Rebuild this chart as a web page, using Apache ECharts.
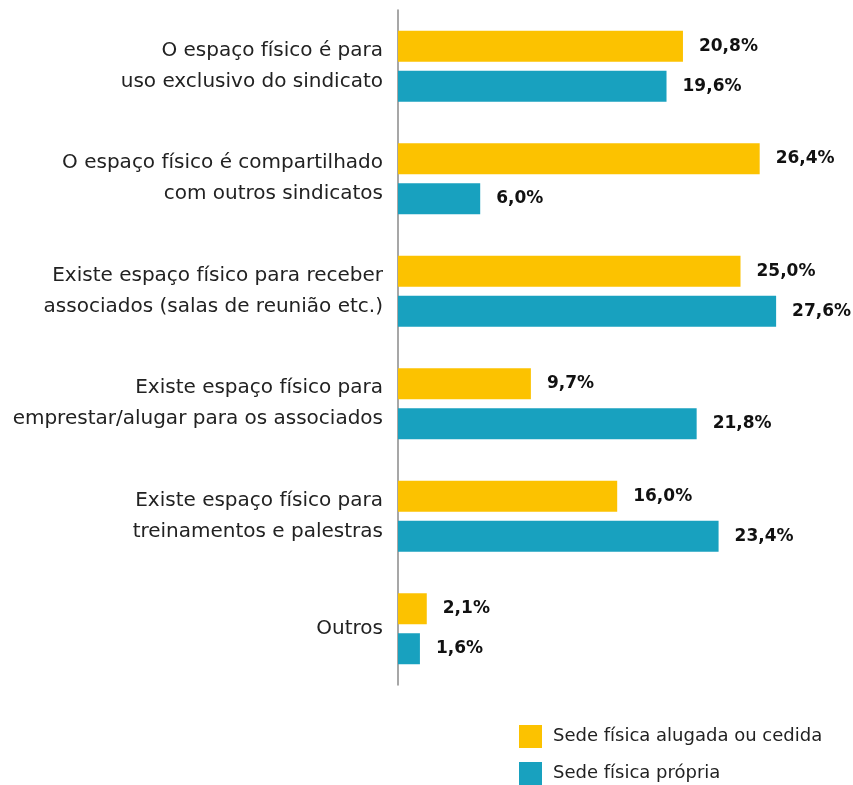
<!DOCTYPE html>
<html>
<head>
<meta charset="UTF-8">
<title>Sede física</title>
<script src="https://cdn.jsdelivr.net/npm/echarts@6/dist/echarts.min.js"></script>
<style>
  html, body { margin: 0; padding: 0; background: #fff; }
  #chart { width: 853px; height: 785px; }
</style>
</head>
<body>
<div id="chart"></div>
<script>
var categories = [
  'O espaço físico é para\nuso exclusivo do sindicato',
  'O espaço físico é compartilhado\ncom outros sindicatos',
  'Existe espaço físico para receber\nassociados (salas de reunião etc.)',
  'Existe espaço físico para\nemprestar/alugar para os associados',
  'Existe espaço físico para\ntreinamentos e palestras',
  'Outros'
];
var alugada = [20.8, 26.4, 25.0, 9.7, 16.0, 2.1];
var propria = [19.6, 6.0, 27.6, 21.8, 23.4, 1.6];
var seriesNames = ['Sede física alugada ou cedida', 'Sede física própria'];

var chart = echarts.init(document.getElementById('chart'), null, { renderer: 'canvas' });

var labelStyle = {
  show: true,
  position: 'right',
  distance: 16,
  fontFamily: 'DejaVu Sans',
  fontWeight: 'bold',
  fontSize: 17,
  color: '#111',
  formatter: function (p) { return p.value.toFixed(1).replace('.', ',') + '%'; }
};

var legendBase = {
  left: 514,
  itemWidth: 23,
  itemHeight: 23,
  icon: 'rect',
  textStyle: { fontFamily: 'DejaVu Sans', fontSize: 18, color: '#222', padding: [0, 0, 0, 6] }
};

chart.setOption({
  animation: false,
  grid: { left: 398, right: 44, top: 10, bottom: 100 },
  legend: [
    Object.assign({}, legendBase, { top: 720, data: [seriesNames[0]] }),
    Object.assign({}, legendBase, { top: 757, data: [seriesNames[1]] })
  ],
  xAxis: {
    type: 'value',
    min: 0,
    max: 30,
    show: false
  },
  yAxis: {
    type: 'category',
    inverse: true,
    data: categories,
    axisLine: { show: true, lineStyle: { color: '#8a8a8a', width: 1.5 } },
    axisTick: { show: false },
    axisLabel: {
      margin: 15,
      fontFamily: 'DejaVu Sans',
      fontSize: 20,
      lineHeight: 31,
      color: '#222',
      align: 'right'
    }
  },
  series: [
    {
      name: seriesNames[0],
      type: 'bar',
      data: alugada,
      barWidth: 31,
      barGap: '29%',
      itemStyle: { color: '#FCC200' },
      label: labelStyle
    },
    {
      name: seriesNames[1],
      type: 'bar',
      data: propria,
      barWidth: 31,
      itemStyle: { color: '#18A1BF' },
      label: labelStyle
    }
  ]
});
</script>
</body>
</html>
